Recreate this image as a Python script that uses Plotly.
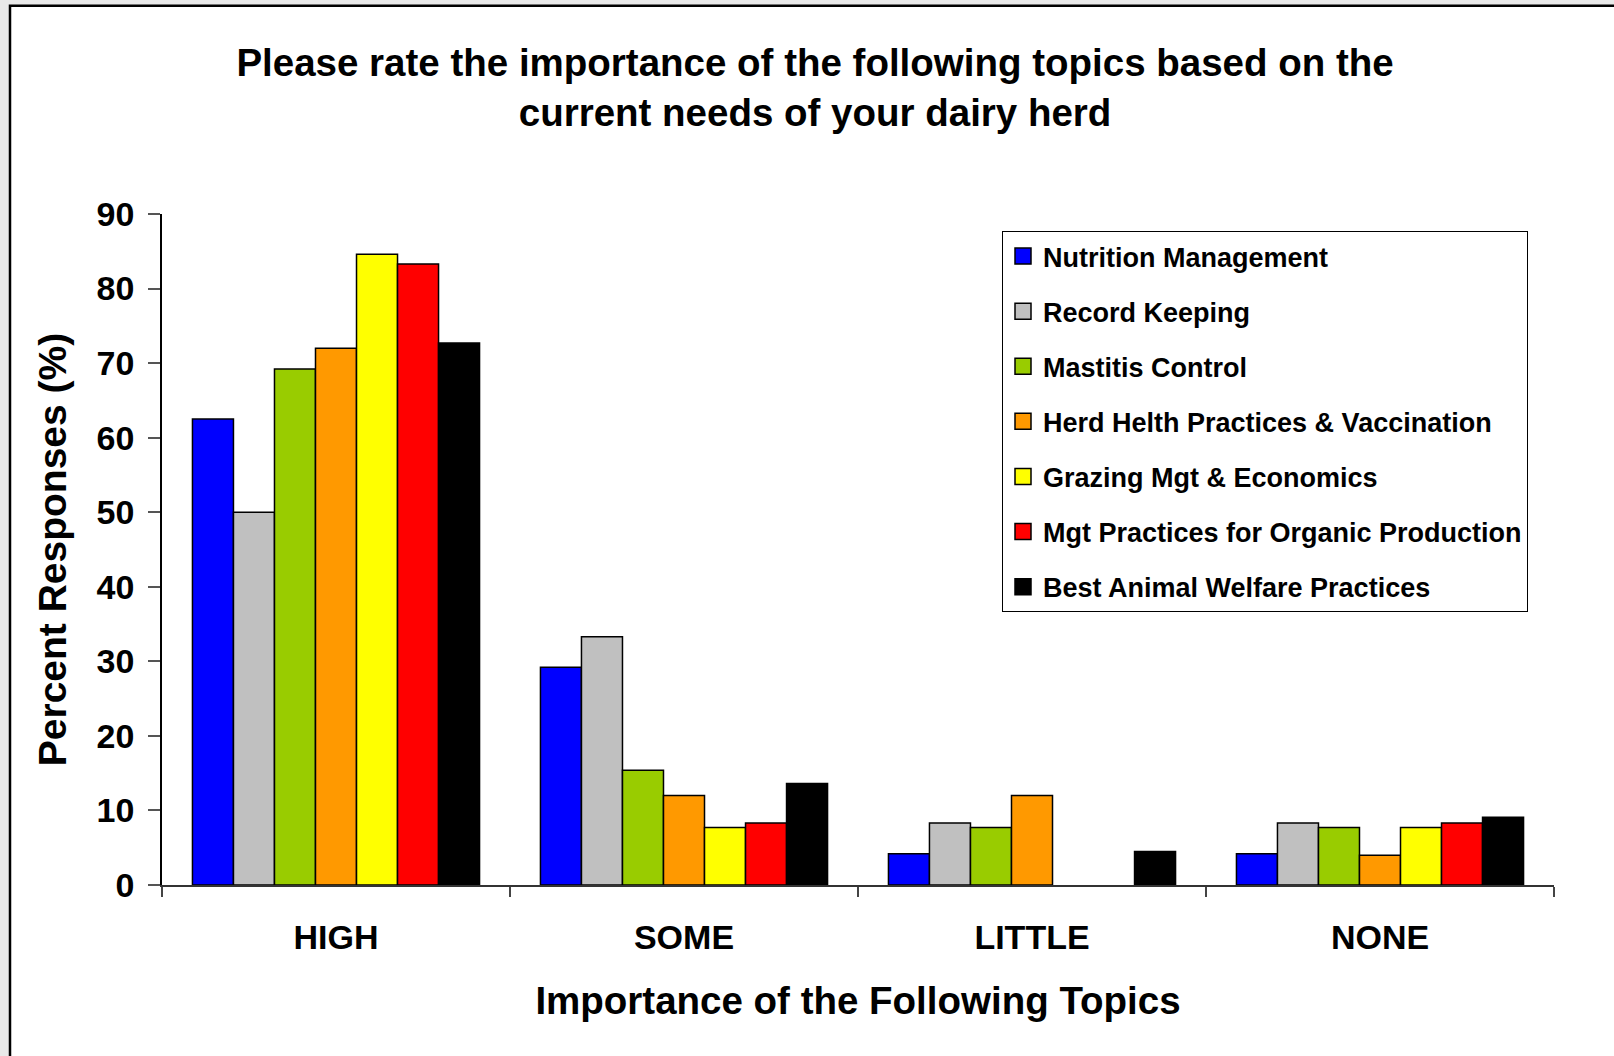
import plotly.graph_objects as go

categories = ["HIGH", "SOME", "LITTLE", "NONE"]
series_names = [
    "Nutrition Management",
    "Record Keeping",
    "Mastitis Control",
    "Herd Helth Practices & Vaccination",
    "Grazing Mgt & Economics",
    "Mgt Practices for Organic Production",
    "Best Animal Welfare Practices",
]
nutrition = [62.5, 29.2, 4.2, 4.2]
record = [50.0, 33.3, 8.3, 8.3]
mastitis = [69.2, 15.4, 7.7, 7.7]
herd_health = [72.0, 12.0, 12.0, 4.0]
grazing = [84.6, 7.7, 0.0, 7.7]
organic = [83.3, 8.3, 0.0, 8.3]
welfare = [72.7, 13.6, 4.5, 9.1]
y_ticks = [0, 10, 20, 30, 40, 50, 60, 70, 80, 90]

series_values = [nutrition, record, mastitis, herd_health, grazing, organic, welfare]
colors = ["#0000FF", "#C0C0C0", "#99CC00", "#FF9900", "#FFFF00", "#FF0000", "#000000"]

W, H = 1614, 1056
ML, MR, MT, MB = 162, 60, 214, 171
PW, PH = W - ML - MR, H - MT - MB
FONT = "Liberation Sans, Arial, sans-serif"

fig = go.Figure()
for i, (name, vals, col) in enumerate(zip(series_names, series_values, colors)):
    fig.add_trace(go.Bar(
        x=categories, y=vals, name=name,
        marker=dict(color=col,
                    line=dict(color="black",
                              width=[0 if v == 0 else 1.5 for v in vals])),
        showlegend=False, legendgroup=f"g{i}",
    ))
    # legend entry with a larger square swatch
    fig.add_trace(go.Scatter(
        x=[None], y=[None], mode="markers", name=name,
        marker=dict(symbol="square", size=16, color=col,
                    line=dict(color="black", width=1.5)),
        legendgroup=f"g{i}", showlegend=True, hoverinfo="skip",
    ))

def px_x(p):
    return (p - ML) / PW

def px_y(p):
    return (H - MB - p) / PH

fig.update_layout(
    width=W, height=H,
    margin=dict(l=ML, r=MR, t=MT, b=MB, autoexpand=False),
    paper_bgcolor="#e9e9e9",
    plot_bgcolor="rgba(0,0,0,0)",
    barmode="group", bargap=0.175, bargroupgap=0,
    font=dict(family=FONT, color="black", weight="bold"),
    title=dict(
        text="Please rate the importance of the following topics based on the<br>current needs of your dairy herd",
        font=dict(size=38.5, family=FONT, color="black", weight="bold"),
        x=0.505, xref="container", xanchor="center",
        y=1 - 76 / H, yref="container", yanchor="middle",
    ),
    legend=dict(
        x=px_x(1002), y=px_y(231), xanchor="left", yanchor="top",
        bordercolor="black", borderwidth=1, bgcolor="white",
        font=dict(size=27, family=FONT, color="black", weight="bold"),
        tracegroupgap=17, itemwidth=30, itemsizing="trace",
    ),
    shapes=[dict(
        type="rect", xref="paper", yref="paper", layer="below",
        x0=px_x(10), x1=px_x(W + 20), y0=px_y(H + 20), y1=px_y(5.7),
        fillcolor="white", line=dict(color="black", width=2.5),
    )],
)

fig.update_xaxes(
    type="category", tickson="boundaries", ticks="outside", ticklen=10,
    tickcolor="#444", tickwidth=1.5,
    showline=True, linecolor="#333", linewidth=1.5,
    tickfont=dict(size=34, family=FONT, color="black", weight="bold"),
    ticklabelstandoff=21,
    title=dict(text="Importance of the Following Topics",
               font=dict(size=38.5, family=FONT, color="black", weight="bold"),
               standoff=33),
    showgrid=False,
)
fig.update_yaxes(
    range=[0, 90], tickvals=y_ticks, ticks="outside", ticklen=12,
    tickcolor="#555", tickwidth=1.5,
    showline=True, linecolor="black", linewidth=1.5,
    tickfont=dict(size=34, family=FONT, color="black", weight="bold"),
    ticklabelstandoff=7,
    title=dict(text="Percent Responses (%)",
               font=dict(size=39, family=FONT, color="black", weight="bold"),
               standoff=18),
    showgrid=False, zeroline=False,
)

fig.write_html(
    "out.html",
    config={"displayModeBar": False},
    post_script="document.body.style.margin='0px';document.body.style.background='#e9e9e9';",
)
